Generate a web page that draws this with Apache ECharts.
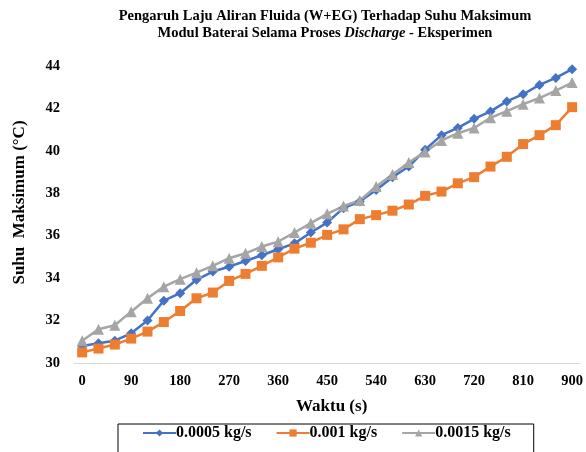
<!DOCTYPE html>
<html>
<head>
<meta charset="utf-8">
<script src="https://cdn.jsdelivr.net/npm/echarts@6/dist/echarts.min.js"></script>
<style>
  html, body { margin: 0; padding: 0; background: #ffffff; }
  #chart { width: 586px; height: 452px; }
</style>
</head>
<body>
<div id="chart"></div>
<script>
// Time in seconds, sampled every 30 s
const waktu = [0, 30, 60, 90, 120, 150, 180, 210, 240, 270, 300, 330, 360, 390, 420, 450,
  480, 510, 540, 570, 600, 630, 660, 690, 720, 750, 780, 810, 840, 870, 900];

// Maximum module temperature (°C) per mass flow rate
const suhu0005 = [30.80, 30.93, 31.05, 31.40, 32.00, 32.94, 33.29, 33.92, 34.31, 34.54, 34.81,
  35.08, 35.36, 35.64, 36.15, 36.62, 37.30, 37.61, 38.16, 38.76, 39.26, 40.05, 40.74,
  41.08, 41.51, 41.86, 42.33, 42.67, 43.11, 43.44, 43.85];
const suhu001 = [30.50, 30.68, 30.87, 31.15, 31.48, 31.93, 32.45, 33.05, 33.32, 33.87, 34.20,
  34.58, 34.98, 35.39, 35.67, 36.04, 36.30, 36.78, 36.97, 37.18, 37.47, 37.88, 38.08,
  38.47, 38.76, 39.26, 39.72, 40.32, 40.74, 41.21, 42.06];
const suhu0015 = [31.05, 31.59, 31.78, 32.42, 33.05, 33.60, 33.95, 34.26, 34.58, 34.94, 35.17,
  35.49, 35.72, 36.15, 36.59, 37.03, 37.40, 37.66, 38.32, 38.88, 39.45, 39.95, 40.49,
  40.83, 41.08, 41.56, 41.87, 42.20, 42.49, 42.84, 43.22];

const seriesNames = ['0.0005 kg/s', '0.001 kg/s', '0.0015 kg/s'];

const serif = '"Liberation Serif", "Times New Roman", serif';

const chart = echarts.init(document.getElementById('chart'), null, { renderer: 'canvas' });

function lineSeries(name, data, color, symbol, size) {
  return {
    name: name,
    type: 'line',
    data: data,
    symbol: symbol,
    symbolSize: size,
    showAllSymbol: true,
    lineStyle: { color: color, width: 2.5 },
    itemStyle: { color: color },
    emphasis: { disabled: true },
    animation: false
  };
}

chart.setOption({
  backgroundColor: '#ffffff',
  title: {
    text: '{b|Pengaruh Laju Aliran Fluida (W+EG) Terhadap Suhu Maksimum}\n' +
          '{b|Modul Baterai Selama Proses }{i|Discharge}{b| - Eksperimen}',
    left: 320,
    top: 3,
    textAlign: 'center',
    textStyle: {
      rich: {
        b: { fontFamily: serif, fontWeight: 'bold', fontSize: 14.5, color: '#000', lineHeight: 17 },
        i: { fontFamily: serif, fontWeight: 'bold', fontStyle: 'italic', fontSize: 14.5, color: '#000', lineHeight: 17 }
      }
    }
  },
  grid: { left: 74, right: 5, top: 66, bottom: 89, containLabel: false },
  xAxis: {
    type: 'category',
    data: waktu,
    boundaryGap: true,
    name: 'Waktu (s)',
    nameLocation: 'middle',
    nameGap: 35,
    nameTextStyle: { fontFamily: serif, fontWeight: 'bold', fontSize: 17, color: '#000', padding: [0, 0, 0, 9] },
    axisLine: { show: true, lineStyle: { color: '#d9d9d9', width: 1 } },
    axisTick: { show: false },
    axisLabel: {
      interval: 2,
      margin: 11,
      fontFamily: serif, fontWeight: 'bold', fontSize: 14.5, color: '#000'
    },
    splitLine: { show: false }
  },
  yAxis: {
    type: 'value',
    min: 30,
    max: 44,
    interval: 2,
    name: 'Suhu  Maksimum (°C)',
    nameLocation: 'middle',
    nameGap: 46,
    nameRotate: 90,
    nameTextStyle: { fontFamily: serif, fontWeight: 'bold', fontSize: 17, color: '#000', padding: [0, 0, 0, 24] },
    axisLine: { show: false },
    axisTick: { show: false },
    axisLabel: { margin: 14, fontFamily: serif, fontWeight: 'bold', fontSize: 14.5, color: '#000' },
    splitLine: { show: false }
  },
  legend: {
    data: seriesNames,
    left: 118,
    top: 424,
    orient: 'horizontal',
    itemWidth: 33,
    itemHeight: 9,
    itemGap: 24,
    padding: [1, 23, 30, 24],
    borderColor: '#000',
    borderWidth: 1,
    textStyle: { fontFamily: serif, fontWeight: 'bold', fontSize: 16, color: '#000', padding: [0, 0, 0, -5] }
  },
  series: [
    lineSeries(seriesNames[0], suhu0005, '#4472C4', 'diamond', 10),
    lineSeries(seriesNames[1], suhu001, '#ED7D31', 'rect', 10),
    lineSeries(seriesNames[2], suhu0015, '#A5A5A5', 'triangle', 11)
  ],
  animation: false
});
</script>
</body>
</html>
